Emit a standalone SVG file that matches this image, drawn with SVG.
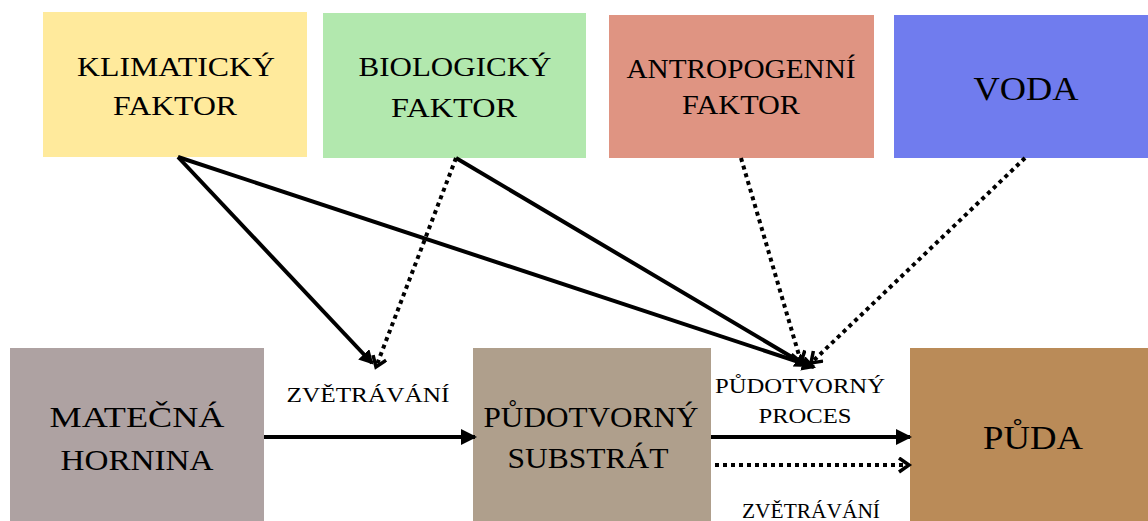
<svg xmlns="http://www.w3.org/2000/svg" width="1148" height="521" viewBox="0 0 1148 521">
<style>
text{font-family:"Liberation Serif","Times New Roman",serif;fill:#000;text-anchor:middle}
.top{font-size:27px}
.big{font-size:29px}
.sm{font-size:22px}
.s{fill:none;stroke:#000;stroke-width:4}
.d{fill:none;stroke:#000;stroke-width:4;stroke-dasharray:4 4}
</style>
<defs>
<marker id="ah" markerUnits="userSpaceOnUse" markerWidth="18" markerHeight="20" refX="14" refY="9" orient="auto">
<path d="M0,1 L16,9 L0,17 z" fill="#000"/>
</marker>
<marker id="ahs" markerUnits="userSpaceOnUse" markerWidth="16" markerHeight="16" refX="12" refY="7" orient="auto">
<path d="M1,1 L12,7 L1,13 z" fill="#000" stroke="#000" stroke-width="2"/>
</marker>
<marker id="ao" markerUnits="userSpaceOnUse" markerWidth="16" markerHeight="18" refX="12" refY="8" orient="auto">
<path d="M2,1 L12,8 L2,15" fill="none" stroke="#000" stroke-width="3.5"/>
</marker>
</defs>
<rect width="1148" height="521" fill="#fff"/>
<g id="klimaticky">
<rect x="43" y="12" width="264" height="145" fill="#FFEA9C"/>
<text class="top" x="176" y="76" textLength="198" lengthAdjust="spacingAndGlyphs">KLIMATICKÝ</text>
<text class="top" x="175" y="115" textLength="124" lengthAdjust="spacingAndGlyphs">FAKTOR</text>
</g>
<g id="biologicky">
<rect x="323" y="13" width="263" height="145" fill="#B2E8AE"/>
<text class="top" x="455" y="76" textLength="193" lengthAdjust="spacingAndGlyphs">BIOLOGICKÝ</text>
<text class="top" x="454" y="117" textLength="126" lengthAdjust="spacingAndGlyphs">FAKTOR</text>
</g>
<g id="antropogenni">
<rect x="609" y="15" width="265" height="143" fill="#DF9482"/>
<text class="top" x="741" y="78" textLength="229" lengthAdjust="spacingAndGlyphs">ANTROPOGENNÍ</text>
<text class="top" x="741" y="114" textLength="118" lengthAdjust="spacingAndGlyphs">FAKTOR</text>
</g>
<g id="voda">
<rect x="894" y="15" width="254" height="143" fill="#707CEE"/>
<text x="1026" y="100" font-size="34" textLength="105" lengthAdjust="spacingAndGlyphs">VODA</text>
</g>
<g id="materska">
<rect x="10" y="348" width="254" height="173" fill="#AEA2A2"/>
<text class="big" x="137" y="427" textLength="175" lengthAdjust="spacingAndGlyphs">MATEČNÁ</text>
<text class="big" x="137" y="470" textLength="153" lengthAdjust="spacingAndGlyphs">HORNINA</text>
</g>
<g id="substrat">
<rect x="473" y="348" width="238" height="173" fill="#AF9F8C"/>
<text class="big" x="591" y="427" textLength="215" lengthAdjust="spacingAndGlyphs">PŮDOTVORNÝ</text>
<text class="big" x="588" y="468" textLength="161" lengthAdjust="spacingAndGlyphs">SUBSTRÁT</text>
</g>
<g id="puda">
<rect x="910" y="348" width="238" height="173" fill="#BA8B58"/>
<text x="1033" y="449" font-size="33" textLength="100" lengthAdjust="spacingAndGlyphs">PŮDA</text>
</g>
<g id="labels">
<text class="sm" x="368" y="402" textLength="163" lengthAdjust="spacingAndGlyphs">ZVĚTRÁVÁNÍ</text>
<text class="sm" x="800" y="393" textLength="170" lengthAdjust="spacingAndGlyphs">PŮDOTVORNÝ</text>
<text class="sm" x="805" y="423" textLength="93" lengthAdjust="spacingAndGlyphs">PROCES</text>
<text class="sm" x="811" y="518" textLength="138" lengthAdjust="spacingAndGlyphs">ZVĚTRÁVÁNÍ</text>
</g>
<g id="connectors">
<line class="s" x1="178" y1="157" x2="372" y2="363" marker-end="url(#ahs)"/>
<line class="s" x1="178" y1="157" x2="814" y2="367" marker-end="url(#ahs)"/>
<line class="d" x1="456" y1="158" x2="376" y2="367" marker-end="url(#ao)"/>
<line class="s" x1="456" y1="158" x2="807" y2="366" marker-end="url(#ahs)"/>
<line class="d" x1="741" y1="158" x2="801" y2="362" marker-end="url(#ao)"/>
<line class="d" x1="1025" y1="158" x2="811" y2="363" marker-end="url(#ao)"/>
<line class="s" x1="264" y1="437" x2="475" y2="437" marker-end="url(#ah)"/>
<line class="s" x1="711" y1="437" x2="910" y2="437" marker-end="url(#ah)"/>
<line class="d" x1="715" y1="465" x2="909" y2="465" marker-end="url(#ao)"/>
</g>
</svg>
